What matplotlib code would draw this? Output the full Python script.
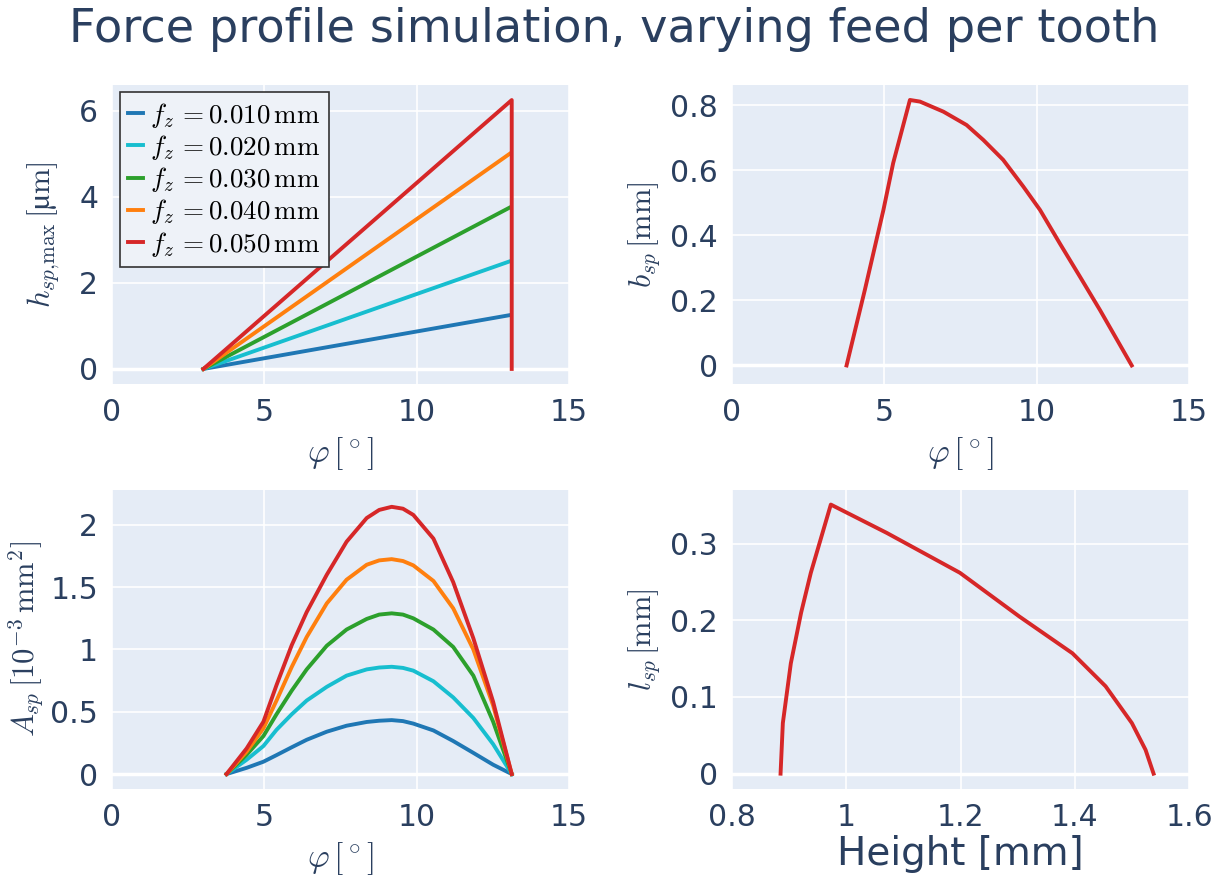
import numpy as np
import matplotlib.pyplot as plt

plt.rcParams['mathtext.fontset'] = 'cm'
plt.rcParams['font.family'] = 'DejaVu Sans'

TXT = '#2a3f5f'
BG = '#e5ecf6'
colors = ['#1f77b4', '#17becf', '#2ca02c', '#ff7f0e', '#d62728']
fz = [0.010, 0.020, 0.030, 0.040, 0.050]

# max chip thickness over engagement angle
phi_h = [3.0, 13.05]
h_end = [1.25, 2.5, 3.75, 5.0, 6.25]

# chip width (same for all feeds)
phi_b = [3.76, 4.36, 4.97, 5.29, 5.84, 6.17, 6.94, 7.70, 8.25, 8.90, 9.56, 10.11,
         10.76, 11.42, 12.08, 13.12]
b_sp = [0.0, 0.232, 0.478, 0.622, 0.816, 0.811, 0.780, 0.739, 0.693, 0.632, 0.55,
        0.478, 0.375, 0.273, 0.17, 0.0]

# chip cross-section area, one row per feed
phi_a = [3.76, 4.42, 4.97, 5.40, 5.90, 6.39, 7.05, 7.70, 8.36, 8.77, 9.18, 9.55, 9.89,
         10.55, 11.2, 11.86, 12.51, 13.12]
A_sp = [
    [0, 0.05, 0.099, 0.152, 0.215, 0.275, 0.34, 0.388, 0.418, 0.428, 0.433, 0.425, 0.405, 0.35, 0.265, 0.17, 0.075, 0],
    [0, 0.115, 0.225, 0.355, 0.48, 0.59, 0.70, 0.79, 0.84, 0.855, 0.861, 0.852, 0.83, 0.745, 0.615, 0.45, 0.24, 0],
    [0, 0.155, 0.305, 0.48, 0.67, 0.84, 1.03, 1.16, 1.245, 1.28, 1.29, 1.28, 1.25, 1.16, 1.02, 0.79, 0.42, 0],
    [0, 0.18, 0.367, 0.59, 0.86, 1.10, 1.37, 1.56, 1.68, 1.715, 1.725, 1.71, 1.675, 1.55, 1.33, 1.0, 0.55, 0],
    [0, 0.206, 0.42, 0.714, 1.035, 1.30, 1.60, 1.865, 2.055, 2.12, 2.145, 2.13, 2.08, 1.89, 1.54, 1.09, 0.58, 0],
]

# contact length over height
height = [0.885, 0.889, 0.903, 0.921, 0.938, 0.973, 1.071, 1.199, 1.303, 1.396,
          1.454, 1.50, 1.524, 1.538]
l_sp = [0.0, 0.066, 0.144, 0.21, 0.262, 0.351, 0.314, 0.262, 0.205, 0.157,
        0.114, 0.066, 0.031, 0.0]

fig = plt.figure(figsize=(12.28, 8.77), dpi=100)
W, H = 1228, 877

def make_ax(x0, y0, x1, y1):
    ax = fig.add_axes([x0 / W, 1 - y1 / H, (x1 - x0) / W, (y1 - y0) / H])
    ax.set_facecolor(BG)
    for s in ax.spines.values():
        s.set_visible(False)
    ax.grid(color='white', lw=1.2)
    ax.set_axisbelow(True)
    ax.tick_params(length=0, labelsize=21.5, labelcolor=TXT, pad=10)
    ax.axhline(0, color='white', lw=2.5, zorder=0.5)
    return ax

ax1 = make_ax(112, 85, 569, 384)
ax2 = make_ax(732, 85, 1189, 384)
ax3 = make_ax(112, 490, 569, 789)
ax4 = make_ax(732, 490, 1189, 789)

lw = 2.8
for i in range(5):
    lab = r'$f_z\,{=}%.3f\,\mathrm{mm}$' % fz[i]
    if i == 4:
        # last feed closes the triangle down to zero
        ax1.plot([phi_h[0], 13.12, 13.12], [0, h_end[i], 0], color=colors[i], lw=lw, label=lab)
    else:
        ax1.plot(phi_h, [0, h_end[i]], color=colors[i], lw=lw, label=lab)
ax1.set_xlim(0, 15)
ax1.set_ylim(-0.35, 6.6)
ax1.set_xticks([0, 5, 10, 15])
ax1.set_yticks([0, 2, 4, 6])
ax1.set_xlabel(r'$\varphi\,[^\circ]$', fontsize=24, color=TXT, labelpad=6)
ax1.set_ylabel(r'$h_{sp{,}\mathrm{max}}\,[$µ$\mathrm{m}]$', family='STIXGeneral',
               fontsize=22, color=TXT, labelpad=12)
leg = ax1.legend(loc='upper left', fontsize=19.5, handlelength=0.55, handletextpad=0.25,
                 borderpad=0.3, labelspacing=0.12, fancybox=False,
                 bbox_to_anchor=(0.018, 0.975), borderaxespad=0)
leg.get_frame().set_edgecolor('#333333')
leg.get_frame().set_linewidth(1.2)
leg.get_frame().set_facecolor('#eef2f8')
leg.get_frame().set_alpha(1)

ax2.plot(phi_b, b_sp, color=colors[4], lw=lw)
ax2.set_xlim(0, 15)
ax2.set_ylim(-0.057, 0.862)
ax2.set_xticks([0, 5, 10, 15])
ax2.set_yticks([0, 0.2, 0.4, 0.6, 0.8])
ax2.set_yticklabels(['0', '0.2', '0.4', '0.6', '0.8'])
ax2.set_xlabel(r'$\varphi\,[^\circ]$', fontsize=24, color=TXT, labelpad=6)
ax2.set_ylabel(r'$b_{sp}\,[\mathrm{mm}]$', fontsize=22, color=TXT, labelpad=6)

for i in range(5):
    ax3.plot(phi_a, A_sp[i], color=colors[i], lw=lw)
ax3.set_xlim(0, 15)
ax3.set_ylim(-0.12, 2.28)
ax3.set_xticks([0, 5, 10, 15])
ax3.set_yticks([0, 0.5, 1, 1.5, 2])
ax3.set_yticklabels(['0', '0.5', '1', '1.5', '2'])
ax3.set_xlabel(r'$\varphi\,[^\circ]$', fontsize=24, color=TXT, labelpad=6)
ax3.set_ylabel(r'$A_{sp}\,[10^{-3}\,\mathrm{mm}^2]$', fontsize=22, color=TXT, labelpad=3)

ax4.plot(height, l_sp, color=colors[4], lw=lw)
ax4.set_xlim(0.8, 1.6)
ax4.set_ylim(-0.02, 0.37)
ax4.set_xticks([0.8, 1.0, 1.2, 1.4, 1.6])
ax4.set_xticklabels(['0.8', '1', '1.2', '1.4', '1.6'])
ax4.set_yticks([0, 0.1, 0.2, 0.3])
ax4.set_yticklabels(['0', '0.1', '0.2', '0.3'])
ax4.set_xlabel('Height [mm]', fontsize=28, color=TXT, labelpad=2)
ax4.set_ylabel(r'$l_{sp}\,[\mathrm{mm}]$', fontsize=22, color=TXT, labelpad=6)

fig.text(0.5, 1 - 30 / H, 'Force profile simulation, varying feed per tooth',
         ha='center', va='center', fontsize=33.3, color=TXT)

fig.savefig('out.png', dpi=100, facecolor='white')
